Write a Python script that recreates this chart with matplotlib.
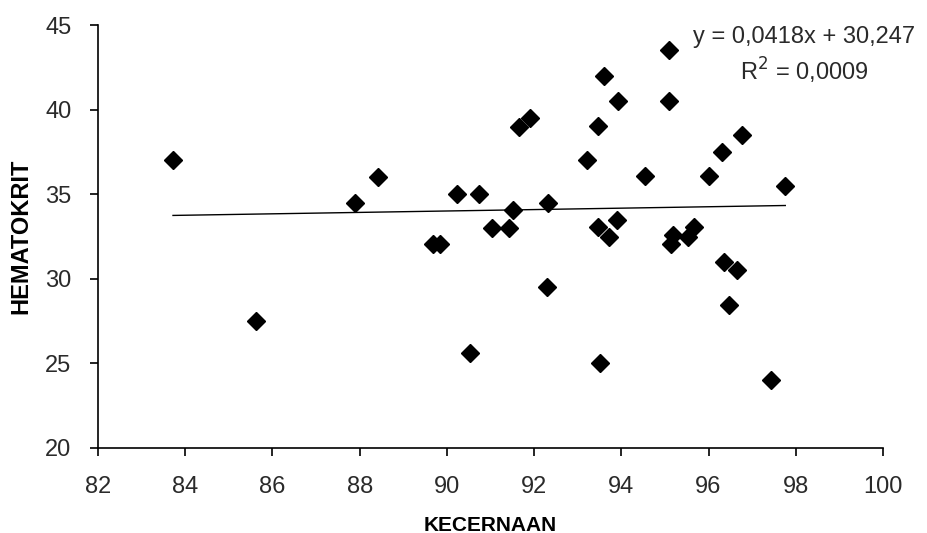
import matplotlib.pyplot as plt

plt.rcParams['font.family'] = ['Liberation Sans', 'DejaVu Sans']

# KECERNAAN (x) vs HEMATOKRIT (y)
kecernaan = [83.72, 85.62, 87.90, 88.42, 89.68, 89.84, 90.23, 90.74, 90.53,
             91.04, 91.43, 91.52, 91.66, 91.91, 92.32, 92.30, 93.22, 93.47,
             93.60, 93.47, 93.90, 93.72, 93.50, 93.93, 94.55, 95.10, 95.10,
             95.19, 95.14, 95.67, 95.53, 96.01, 96.31, 96.77, 96.36, 96.66,
             96.47, 97.44, 97.76]
hematokrit = [37.0, 27.5, 34.5, 36.0, 32.05, 32.05, 35.0, 35.0, 25.6,
              33.0, 33.0, 34.05, 39.0, 39.5, 34.5, 29.5, 37.0, 39.05,
              42.0, 33.05, 33.5, 32.5, 25.0, 40.5, 36.05, 43.5, 40.5,
              32.6, 32.05, 33.05, 32.5, 36.05, 37.5, 38.5, 31.0, 30.5,
              28.45, 24.0, 35.5]

# trendline as printed on the chart
slope = 0.0418
intercept = 30.247
r2_text = '0,0009'

fig = plt.figure(figsize=(9.27, 5.33), dpi=100)
ax = fig.add_axes([0.1057, 0.1595, 0.8468, 0.7935])

ax.plot(kecernaan, hematokrit, linestyle='none', marker='D', markersize=9.5,
        color='black')
x0, x1 = min(kecernaan), max(kecernaan)
ax.plot([x0, x1], [slope * x0 + intercept, slope * x1 + intercept],
        color='black', linewidth=1)

ax.set_xlim(82, 100)
ax.set_ylim(20, 45)
ax.set_xticks(range(82, 101, 2))
ax.set_yticks(range(20, 46, 5))
ax.spines['top'].set_visible(False)
ax.spines['right'].set_visible(False)
for s in ('left', 'bottom'):
    ax.spines[s].set_linewidth(1.2)
ax.tick_params(direction='out', length=6, width=1.2, labelsize=17,
               labelcolor='#2a2a2a')
ax.tick_params(axis='x', pad=14)
ax.tick_params(axis='y', pad=13)

ax.set_xlabel('KECERNAAN', fontsize=15, fontweight='bold', labelpad=13)
ax.set_ylabel('HEMATOKRIT', fontsize=17, fontweight='bold', labelpad=9)

eq = 'y = {:.4f}x + {:.3f}'.format(slope, intercept).replace('.', ',')
ax.text(98.2, 44.3, eq, fontsize=17, ha='center', va='center',
        color='#2a2a2a')
ax.text(98.2, 42.3, 'R$^2$ = ' + r2_text, fontsize=17, ha='center',
        va='center', color='#2a2a2a')

fig.savefig('out.png', dpi=100)
